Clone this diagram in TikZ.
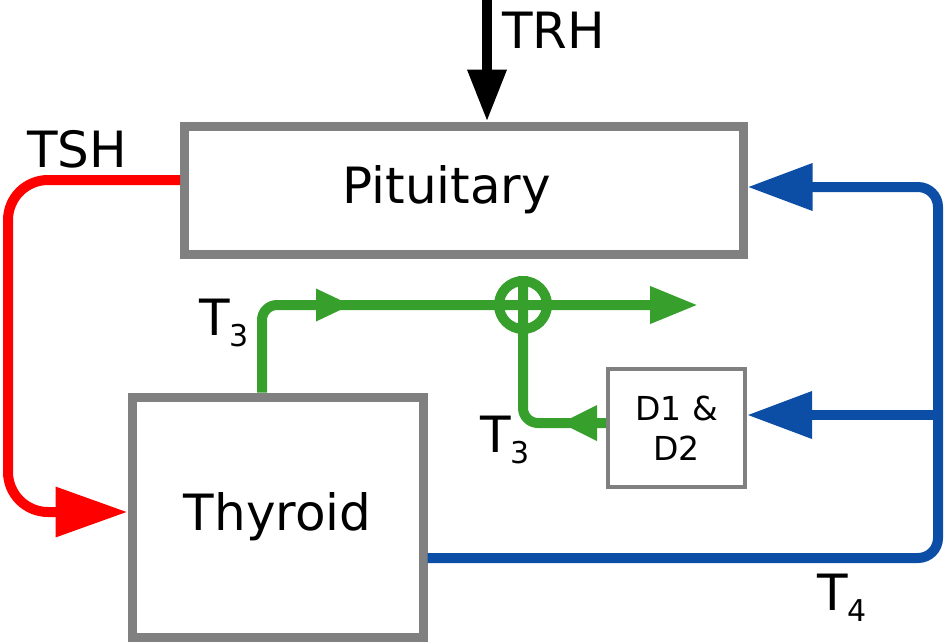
\documentclass[tikz,border=0pt]{standalone}
\usepackage{fontspec}
\setmainfont{DejaVu Sans}
\usetikzlibrary{arrows.meta}
\definecolor{boxgray}{RGB}{128,128,128}
\definecolor{tshred}{RGB}{255,0,0}
\definecolor{tfourblue}{RGB}{12,78,165}
\definecolor{tthreegreen}{RGB}{55,160,45}
\newcommand{\sub}[1]{\raisebox{-5.5pt}{\fontsize{15}{15}\selectfont #1}}
\begin{document}
\begin{tikzpicture}[x=0.5pt, y=-0.5pt, font=\fontsize{25}{30}\selectfont,
	main/.style = {draw=boxgray, line width=4.5pt, inner sep=0pt},
	small/.style = {draw=boxgray, line width=2pt, inner sep=0pt, align=center, font=\fontsize{16.5}{20}\selectfont},
	lbl/.style = {anchor=base west, inner sep=0pt},
	flow/.style = {line width=5pt, rounded corners=7.5pt}]
	\useasboundingbox (0,0) rectangle (945,643);
	
	%Boxes
	\node[main, minimum width=279.25pt, minimum height=64pt] (pit) at (463.75,190) {Pituitary\hspace*{17pt}};
	\node[main, minimum width=145.5pt, minimum height=120pt] (thy) at (277.5,517) {Thyroid};
	\node[small, minimum width=68.5pt, minimum height=59pt] (deio) at (676.5,428) {D1 \&\\D2};
	\node[circle, draw=tthreegreen, line width=5pt, minimum size=24pt, inner sep=0pt] (sum) at (523,305) {};
	
	%Free ends and corners
	\coordinate (trhin) at (487,0);
	\coordinate (tshcorner) at (8,180);
	\coordinate (t4r) at (938,558);
	\coordinate (t4top) at (938,187);
	\coordinate (t4mid) at (938,415);
	\coordinate (t3s) at (300,305);
	\coordinate (t3a) at (352,305);
	\coordinate (t3b) at (698,305);
	\coordinate (t3c) at (560,423);
	
	%Labels
	\node[lbl] (trh) at (502,48) {TRH};
	\node[lbl] (tsh) at (27,167) {TSH};
	\node[lbl] (t3up) at (199,335) {T\sub{3}};
	\node[lbl] (t3low) at (480,452) {T\sub{3}};
	\node[lbl] (t4) at (817,610) {T\sub{4}};
	
	%TRH in, TSH out
	\draw[flow, -{Triangle[length=26pt,width=18.5pt]}] (trhin) -- (trhin |- pit.north); %TRH -> pituitary
	\draw[flow, tshred, rounded corners=20pt, -{Triangle[length=36pt,width=24pt]}] ([yshift=5pt]pit.west) -- (tshcorner) |- ([yshift=2.5pt]thy.west); %TSH -> thyroid
	
	%T4 feedback
	\draw[flow, tfourblue, rounded corners=10pt, -{Triangle[length=32.5pt,width=22.5pt]}] ([yshift=-20.5pt]thy.east) -- (t4r) -- (t4top) -- ([yshift=1.5pt]pit.east); %T4 -> pituitary
	\draw[flow, tfourblue, -{Triangle[length=32.5pt,width=22.5pt]}] (t4mid) -- (deio.east |- t4mid); %T4 -> D1 & D2
	
	%T3 flows
	\draw[flow, tthreegreen, -{Triangle[length=24pt,width=17.5pt]}] ([xshift=-7.75pt]thy.north) |- (t3b); %thyroid T3 and total T3
	\draw[flow, tthreegreen, -{Triangle[length=18pt,width=15pt]}] (t3s) -- (t3a); %mid arrow
	\draw[flow, tthreegreen] (sum.north) -- (sum.south) |- ([yshift=2.5pt]deio.west); %D1 & D2 -> sum
	\draw[flow, tthreegreen, -{Triangle[length=18.5pt,width=16.5pt]}] ([yshift=2.5pt]deio.west) -- (t3c); %converted T3
\end{tikzpicture}
\end{document}
